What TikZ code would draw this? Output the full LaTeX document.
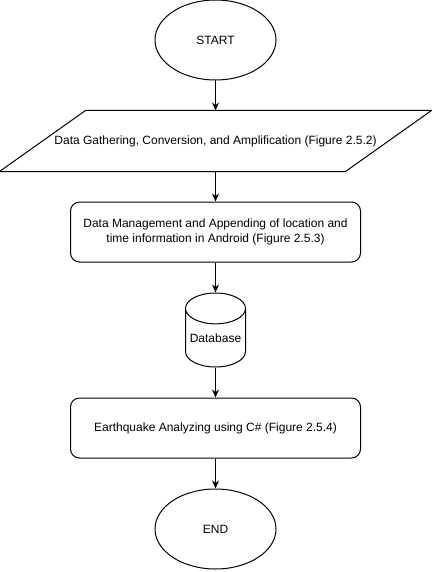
\documentclass[tikz,border=0pt]{standalone}
\usepackage{fontspec}
\setmainfont{Liberation Sans}
\usetikzlibrary{positioning,shapes.geometric,arrows.meta}
\begin{document}
\begin{tikzpicture}[x=1pt,y=1pt,node distance=30pt,
        every node/.style={font=\fontsize{12}{14.5}\selectfont,line width=1pt,inner sep=0pt},
        base/.style={draw,align=center},
        terminal/.style={base,ellipse,minimum width=121pt,minimum height=80pt},
        iobox/.style={align=center,minimum width=345pt,minimum height=60pt},
        process/.style={base,rectangle,rounded corners=9pt,minimum width=290pt,minimum height=60pt},
        store/.style={base,cylinder,shape border rotate=90,aspect=0.6,minimum width=60pt,minimum height=74pt},
        flow/.style={line width=1pt,-{Stealth[length=8pt,width=7pt]}}]
        \useasboundingbox (0,0) rectangle (431,-572);
        % Nodes
        \node[terminal] (start) at (215.5,-40) {START};
        \node[iobox,below=of start] (gather) {Data Gathering, Conversion, and Amplification (Figure 2.5.2)};
        \node[process,below=of gather] (manage) {Data Management and Appending of location and\\time information in Android (Figure 2.5.3)};
        \node[store,below=of manage] (db) {Database};
        \node[process,below=of db] (analyze) {Earthquake Analyzing using C\# (Figure 2.5.4)};
        \node[terminal,below=of analyze] (end) {END};
        % Parallelogram round the input node
        \draw[line width=1pt] ([xshift=-43pt]gather.south west) -- ([xshift=43pt]gather.north west)
            -- ([xshift=43pt]gather.north east) -- ([xshift=-43pt]gather.south east) -- cycle;
        % Connectors
        \draw[flow] (start) -- (gather);
        \draw[flow] (gather) -- (manage);
        \draw[flow] (manage) -- (db);
        \draw[flow] (db) -- (analyze);
        \draw[flow] (analyze) -- (end);
    \end{tikzpicture}
\end{document}
